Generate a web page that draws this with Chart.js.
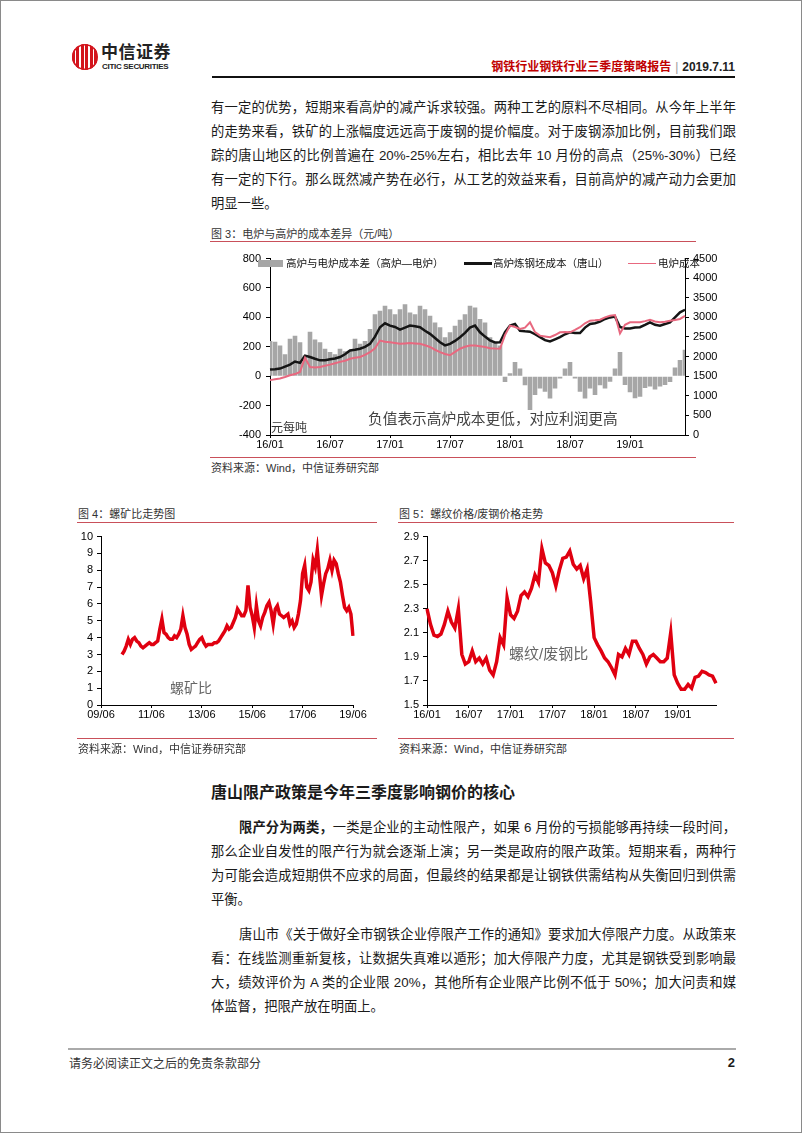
<!DOCTYPE html>
<html>
<head>
<meta charset="utf-8">
<script src="https://cdn.jsdelivr.net/npm/chart.js@4.4.1/dist/chart.umd.min.js"></script>
<style>
html, body { margin: 0; padding: 0; background: #fff; }
#page { position: relative; width: 802px; height: 1133px; box-sizing: border-box; border: 1px solid #8a8a8a; overflow: hidden;
  font-family: "Liberation Sans", "Noto Sans CJK SC", sans-serif; color: #1a1a1a; }
.abs { position: absolute; }
.txt { position: absolute; left: 210px; width: 525px; font-size: 13.3px; line-height: 24px; }
.txt div { white-space: nowrap; text-align: justify; text-align-last: justify; }
.txt div.last { text-align-last: left; }
.txt div.ind { padding-left: 28px; }
.cap { position: absolute; font-size: 11px; line-height: 14px; color: #333; white-space: nowrap; }
.rule { position: absolute; height: 0; border-top: 1.5px solid #c9505a; }
.note { position: absolute; white-space: nowrap; line-height: 1; }
canvas { position: absolute; display: block; }
</style>
</head>
<body>
<div id="page">

  <!-- header -->
  <div class="abs" style="left:71px;top:43px;width:26px;height:26px;border-radius:50%;background:repeating-linear-gradient(90deg,#d3141c 0 3px,#fff 3px 4.5px);box-shadow:0 0 0 1.5px #d3141c inset"></div>
  <div class="abs" style="left:100px;top:40px;font-size:17px;font-weight:bold;font-family:'Noto Sans CJK SC';letter-spacing:0.5px;color:#222;line-height:20px">中信证券</div>
  <div class="abs" style="left:101px;top:61px;font-size:8px;font-weight:bold;letter-spacing:-0.3px;color:#222;line-height:9px">CITIC SECURITIES</div>
  <div class="abs" style="right:66px;top:59px;font-size:12px;font-weight:bold;white-space:nowrap;line-height:14px">
    <span style="color:#c00000">钢铁行业钢铁行业三季度策略报告</span><span style="color:#999;font-weight:normal;margin:0 4px">|</span><span style="color:#222">2019.7.11</span>
  </div>
  <div class="abs" style="left:211px;top:75px;width:523px;height:2px;background:#111"></div>

  <!-- text block -->
  <div class="txt" style="top:95px">
    <div>有一定的优势，短期来看高炉的减产诉求较强。两种工艺的原料不尽相同。从今年上半年</div>
    <div>的走势来看，铁矿的上涨幅度远远高于废钢的提价幅度。对于废钢添加比例，目前我们跟</div>
    <div>踪的唐山地区的比例普遍在 20%-25%左右，相比去年 10 月份的高点（25%-30%）已经</div>
    <div>有一定的下行。那么既然减产势在必行，从工艺的效益来看，目前高炉的减产动力会更加</div>
    <div class="last">明显一些。</div>
  </div>

  <!-- figure 3 -->
  <div class="cap" style="left:210px;top:226px">图 3：电炉与高炉的成本差异（元/吨）</div>
  <div class="rule" style="left:209px;top:240px;width:486px"></div>
  <canvas id="c3" width="517" height="206" style="left:204px;top:246px"></canvas>
  <div class="abs" style="left:257px;top:259px;width:25px;height:7px;background:#a6a6a6"></div>
  <div class="note" style="left:285px;top:257px;font-size:10.5px;color:#111">高炉与电炉成本差（高炉—电炉）</div>
  <div class="abs" style="left:463px;top:261px;width:28px;height:3px;background:#151515"></div>
  <div class="note" style="left:492px;top:257px;font-size:10.5px;color:#111">高炉炼钢坯成本（唐山）</div>
  <div class="abs" style="left:627px;top:261.5px;width:28px;height:1.5px;background:#e8687f"></div>
  <div class="note" style="left:657px;top:257px;font-size:10.5px;color:#111">电炉成本</div>
  <div class="note" style="left:270px;top:421px;font-size:12px;color:#333">元每吨</div>
  <div class="note" style="left:367px;top:411px;font-size:14.7px;color:#444">负值表示高炉成本更低，对应利润更高</div>
  <div class="rule" style="left:209px;top:456px;width:486px"></div>
  <div class="cap" style="left:210px;top:460px">资料来源：Wind，中信证券研究部</div>

  <!-- figure 4 -->
  <div class="cap" style="left:77px;top:506px">图 4：螺矿比走势图</div>
  <div class="rule" style="left:76px;top:521px;width:300px"></div>
  <canvas id="c4" width="300" height="195" style="left:76px;top:525px"></canvas>
  <div class="note" style="left:169px;top:680px;font-size:14px;color:#666">螺矿比</div>
  <div class="rule" style="left:76px;top:737px;width:300px"></div>
  <div class="cap" style="left:77px;top:741px">资料来源：Wind，中信证券研究部</div>

  <!-- figure 5 -->
  <div class="cap" style="left:398px;top:506px">图 5：螺纹价格/废钢价格走势</div>
  <div class="rule" style="left:397px;top:521px;width:336px"></div>
  <canvas id="c5" width="330" height="195" style="left:397px;top:525px"></canvas>
  <div class="note" style="left:508px;top:645px;font-size:15px;color:#666">螺纹/废钢比</div>
  <div class="rule" style="left:397px;top:737px;width:336px"></div>
  <div class="cap" style="left:398px;top:741px">资料来源：Wind，中信证券研究部</div>

  <!-- section -->
  <div class="txt" style="top:780px;font-size:16px;font-weight:bold"><div class="last">唐山限产政策是今年三季度影响钢价的核心</div></div>
  <div class="txt" style="top:815px">
    <div class="ind"><b>限产分为两类，</b>一类是企业的主动性限产，如果 6 月份的亏损能够再持续一段时间，</div>
    <div>那么企业自发性的限产行为就会逐渐上演；另一类是政府的限产政策。短期来看，两种行</div>
    <div>为可能会造成短期供不应求的局面，但最终的结果都是让钢铁供需结构从失衡回归到供需</div>
    <div class="last">平衡。</div>
  </div>
  <div class="txt" style="top:922px">
    <div class="ind">唐山市《关于做好全市钢铁企业停限产工作的通知》要求加大停限产力度。从政策来</div>
    <div>看：在线监测重新复核，让数据失真难以遁形；加大停限产力度，尤其是钢铁受到影响最</div>
    <div>大，绩效评价为 A 类的企业限 20%，其他所有企业限产比例不低于 50%；加大问责和媒</div>
    <div class="last">体监督，把限产放在明面上。</div>
  </div>

  <!-- footer -->
  <div class="abs" style="left:67px;top:1047px;width:668px;height:2px;background:#aaa"></div>
  <div class="abs" style="left:68px;top:1055px;font-size:12px;color:#333;line-height:16px">请务必阅读正文之后的免责条款部分</div>
  <div class="abs" style="right:66px;top:1054px;font-size:13px;font-weight:bold;line-height:16px">2</div>
</div>

<script>
// fig 3: semi-monthly, 16/01 .. 19/06
var halfMonths = [];
for (var y = 16; y <= 19; y++) {
  for (var m = 1; m <= 12; m++) {
    if (y === 19 && m > 6) break;
    var s = y + '/' + (m < 10 ? '0' + m : m);
    halfMonths.push(s + 'a', s + 'b');
  }
}
// 高炉炼钢坯成本（唐山）, right axis
var bfCost = [1670,1680,1695,1745,1795,1875,1840,2025,1990,1945,1905,1905,
  1930,1950,1990,2060,2155,2175,2200,2250,2325,2510,2750,2850,
  2790,2755,2690,2740,2790,2775,2750,2660,2580,2475,2365,2285,
  2325,2400,2495,2605,2740,2790,2620,2510,2410,2360,2365,2625,
  2790,2830,2660,2645,2635,2570,2495,2420,2385,2440,2495,2570,
  2620,2605,2600,2740,2830,2850,2890,2960,3000,3020,2755,2720,
  2720,2740,2750,2810,2875,2810,2790,2830,2875,3000,3130,3195];
// 电炉成本, right axis
var eafCost = [1400,1420,1440,1480,1525,1555,1610,1970,1735,1725,1735,1765,
  1795,1830,1865,1895,1945,1970,1990,2045,2115,2210,2410,2380,
  2365,2345,2325,2335,2345,2335,2325,2290,2245,2175,2115,2065,
  2035,2120,2200,2250,2285,2285,2265,2245,2215,2205,2200,2550,
  2790,2755,2705,2740,2875,2625,2535,2515,2495,2550,2620,2625,
  2620,2680,2750,2850,2915,2925,2940,3000,3040,3060,2590,2810,
  2875,2875,2875,2905,2940,2895,2875,2890,2915,2935,2960,3040];
// 高炉与电炉成本差, left axis
var costDiff = [240,235,209,150,254,276,231,141,303,250,231,186,
  164,150,186,170,175,254,220,240,321,422,445,479,
  456,422,456,490,434,422,479,456,411,366,333,265,
  299,344,384,422,479,467,389,366,265,231,209,-40,
  20,97,52,-61,-230,-128,-83,-106,-151,-83,-16,52,
  97,-16,-106,-151,-83,-128,-61,-83,-38,52,164,-60,
  -110,-150,-140,-80,-70,-90,-70,-60,-40,60,110,180];

// fig 4: monthly, 09/06 .. 19/06
var months = [];
for (var i = 0; i <= 120; i++) {
  var mm = 5 + i, yy = 9 + Math.floor(mm / 12), mo = mm % 12 + 1;
  months.push((yy < 10 ? '0' + yy : yy) + '/' + (mo < 10 ? '0' + mo : mo));
}
var rebarOre = [null,null,null,null,null,null,null,null,null,null,
  3.0,3.2,3.5,3.9,3.6,3.9,4.0,3.8,3.7,
  3.5,3.4,3.5,3.6,3.7,3.6,3.6,3.7,3.8,4.5,5.1,4.3,
  4.2,4.0,3.9,3.9,4.1,4.0,4.2,4.5,5.3,4.6,4.2,3.6,
  3.3,3.4,3.5,3.7,3.9,4.0,3.7,3.5,3.6,3.6,3.6,3.7,
  3.7,3.8,4.0,4.2,4.4,4.7,4.5,4.6,4.9,5.2,5.7,5.5,
  5.3,5.3,5.6,7.1,5.8,5.3,4.6,5.9,5.0,4.7,5.2,5.5,
  5.9,6.1,5.6,4.8,5.7,5.9,5.4,5.3,5.2,5.3,5.4,4.8,
  5.0,4.6,4.8,5.4,6.2,7.8,8.3,7.0,6.8,7.3,8.6,8.2,
  9.2,7.8,6.5,7.2,7.8,8.1,8.6,8.0,8.6,8.4,7.8,7.3,
  6.5,5.8,5.6,5.8,5.4,4.1];

// fig 5: semi-monthly, same span as fig 3
var rebarScrap = [2.30,2.17,2.08,2.07,2.09,2.17,2.28,2.19,2.14,2.30,1.92,1.84,
  1.86,1.95,1.86,1.89,1.84,1.89,1.79,1.75,1.86,2.06,2.00,2.39,
  2.25,2.22,2.28,2.41,2.44,2.40,2.47,2.58,2.52,2.80,2.68,2.66,
  2.60,2.49,2.62,2.72,2.73,2.78,2.67,2.63,2.66,2.55,2.63,2.36,
  2.06,2.00,1.95,1.89,1.86,1.81,1.75,1.92,1.90,1.97,1.92,2.03,
  2.03,1.97,1.92,1.84,1.90,1.92,1.89,1.86,1.86,1.89,2.10,1.75,
  1.68,1.63,1.63,1.67,1.64,1.73,1.74,1.78,1.77,1.75,1.74,1.68];

Chart.defaults.font.family = '"Liberation Sans", Arial, sans-serif';
Chart.defaults.font.size = 11;
Chart.defaults.color = '#000';
Chart.defaults.animation = false;
Chart.defaults.plugins.legend.display = false;
Chart.defaults.plugins.tooltip.enabled = false;

function gridOpts(len) {
  return { drawOnChartArea: false, drawTicks: true, tickLength: len, color: '#000', offset: false };
}
var borderOpts = { display: true, color: '#000', width: 1 };

function xAxis(labels, every, height) {
  return {
    type: 'category', offset: false,
    grid: gridOpts(3), border: borderOpts,
    ticks: { autoSkip: false, maxRotation: 0, padding: 0,
      callback: function(v) { return labels[v].slice(0, 5); } },
    afterBuildTicks: function(s) { s.ticks = s.ticks.filter(function(t) { return t.value % every === 0; }); },
    afterFit: function(s) { s.height = height; }
  };
}

new Chart(document.getElementById('c3'), {
  type: 'bar',
  data: {
    labels: halfMonths,
    datasets: [
      { type: 'line', data: eafCost, yAxisID: 'y1', borderColor: '#e8687f', borderWidth: 2, pointRadius: 0, order: 0 },
      { type: 'line', data: bfCost, yAxisID: 'y1', borderColor: '#151515', borderWidth: 2.5, pointRadius: 0, order: 1 },
      { type: 'bar', data: costDiff, yAxisID: 'y', backgroundColor: '#a6a6a6', barPercentage: 0.92, categoryPercentage: 1, order: 2 }
    ]
  },
  options: {
    responsive: false,
    layout: { padding: { top: 10, right: 0, left: 0, bottom: 0 } },
    scales: {
      x: xAxis(halfMonths, 12, 18),
      y: { position: 'left', min: -400, max: 800, grid: gridOpts(4), border: borderOpts,
        ticks: { stepSize: 200, padding: 5 }, afterFit: function(s) { s.width = 65; } },
      y1: { position: 'right', min: 0, max: 4500, grid: gridOpts(4), border: borderOpts,
        ticks: { stepSize: 500, padding: 4, callback: function(v) { return String(v); } },
        afterFit: function(s) { s.width = 37; } }
    }
  }
});

new Chart(document.getElementById('c4'), {
  type: 'line',
  data: {
    labels: months,
    datasets: [{ data: rebarOre, borderColor: '#e00010', borderWidth: 3.5, pointRadius: 0 }]
  },
  options: {
    responsive: false,
    layout: { padding: { top: 9, right: 24, left: 0, bottom: 0 } },
    scales: {
      x: xAxis(months, 24, 16),
      y: { min: 0, max: 10, grid: gridOpts(4), border: borderOpts,
        ticks: { stepSize: 1, padding: 4 }, afterFit: function(s) { s.width = 24; } }
    }
  }
});

new Chart(document.getElementById('c5'), {
  type: 'line',
  data: {
    labels: halfMonths,
    datasets: [{ data: rebarScrap, borderColor: '#e00010', borderWidth: 3.5, pointRadius: 0 }]
  },
  options: {
    responsive: false,
    layout: { padding: { top: 9, right: 12, left: 0, bottom: 0 } },
    scales: {
      x: xAxis(halfMonths, 12, 16),
      y: { min: 1.5, max: 2.9, grid: gridOpts(4), border: borderOpts,
        ticks: { stepSize: 0.2, padding: 4, callback: function(v) { return v.toFixed(1); } },
        afterFit: function(s) { s.width = 29; } }
    }
  }
});
</script>
</body>
</html>
